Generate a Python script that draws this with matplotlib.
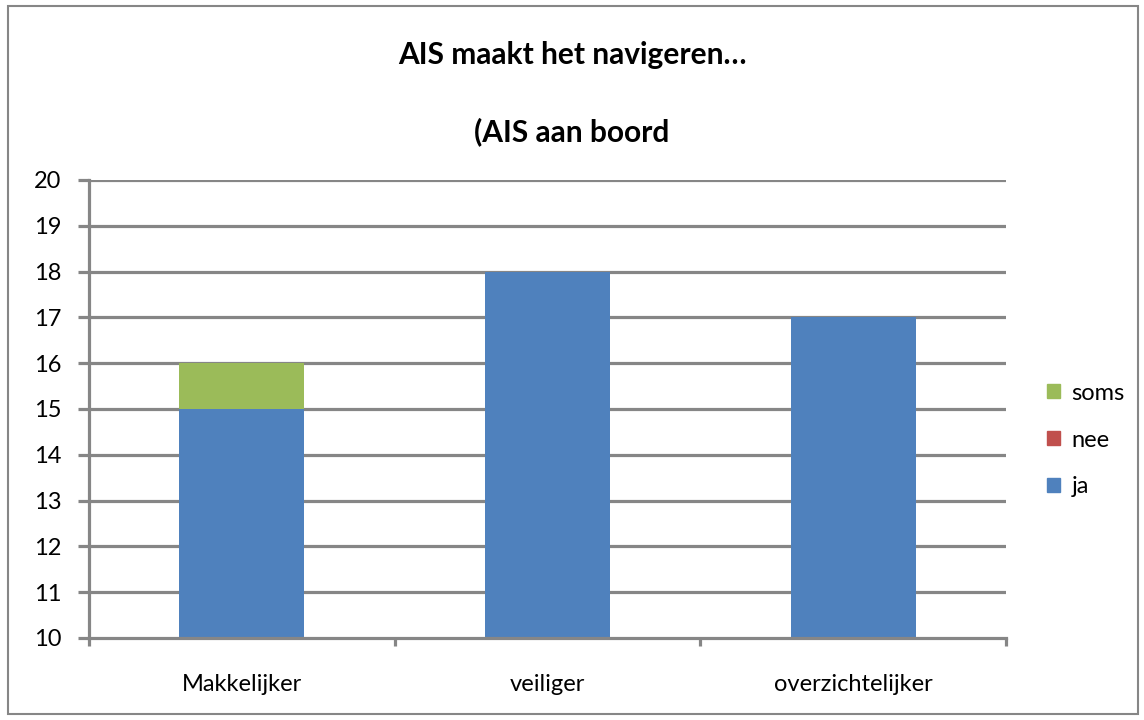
import matplotlib
matplotlib.use("Agg")
import matplotlib.pyplot as plt
from matplotlib.patches import Rectangle, Patch
import numpy as np

categories = ["Makkelijker", "veiliger", "overzichtelijker"]
ja = [15, 18, 17]
nee = [0, 0, 0]
soms = [1, 0, 0]
yticks = list(range(10, 21))
title_lines = ["AIS maakt het navigeren\u2026", "(AIS aan boord"]

plt.rcParams['font.family'] = ['Lato', 'DejaVu Sans']

fig = plt.figure(figsize=(11.44, 7.2), dpi=100)
fig.patches.append(Rectangle((8/1144, 6/720), 1 - 14/1144, 1 - 12/720,
                             transform=fig.transFigure, fill=False,
                             edgecolor='#868686', linewidth=1.5))
ax = fig.add_axes([89/1144, 1 - 638/720, (1006 - 89)/1144, (638 - 180)/720])

grid_c = '#868686'
x = np.arange(len(categories))
w = 0.41
ja_a = np.array(ja, float)
nee_a = np.array(nee, float)
soms_a = np.array(soms, float)
ax.bar(x, ja_a - 10, bottom=10, width=w, color='#4F81BD', zorder=3, label='ja')
ax.bar(x, nee_a, bottom=ja_a, width=w, color='#C0504D', zorder=3, label='nee')
ax.bar(x, soms_a, bottom=ja_a + nee_a, width=w, color='#9BBB59', zorder=3, label='soms')

ax.set_ylim(10, 20)
ax.set_xlim(-0.5, len(categories) - 0.5)
ax.set_yticks(yticks)
ax.set_yticklabels([str(v) for v in yticks], fontsize=17)
for v in yticks[1:]:
    ax.axhline(v, color=grid_c, linewidth=2.3, zorder=1)

ax.set_xticks(np.arange(len(categories) + 1) - 0.5)
ax.set_xticklabels([])
ax.set_xticks(x, minor=True)
ax.set_xticklabels(categories, minor=True, fontsize=17)
ax.tick_params(axis='x', which='minor', length=0, pad=26)
ax.tick_params(axis='x', which='major', length=6, width=2.3, color=grid_c, direction='out')
ax.tick_params(axis='y', length=8, width=2.3, color=grid_c, direction='out', pad=12)

for s in ['top', 'right']:
    ax.spines[s].set_visible(False)
for s in ['left', 'bottom']:
    ax.spines[s].set_color(grid_c)
    ax.spines[s].set_linewidth(2.3)
    ax.spines[s].set_zorder(4)

fig.text(0.5, 1 - 55/720, title_lines[0], ha='center', va='center',
         fontsize=21.5, fontweight='bold')
fig.text(0.5, 1 - 132/720, title_lines[1], ha='center', va='center',
         fontsize=21.5, fontweight='bold')

handles = [Patch(color='#9BBB59', label='soms'),
           Patch(color='#C0504D', label='nee'),
           Patch(color='#4F81BD', label='ja')]
fig.legend(handles=handles, loc='center left',
           bbox_to_anchor=(1035/1144, 1 - 440/720), frameon=False,
           fontsize=17, handlelength=0.55, handleheight=0.55,
           handletextpad=0.5, labelspacing=1.1, borderpad=0)

fig.savefig('out.png', dpi=100)
